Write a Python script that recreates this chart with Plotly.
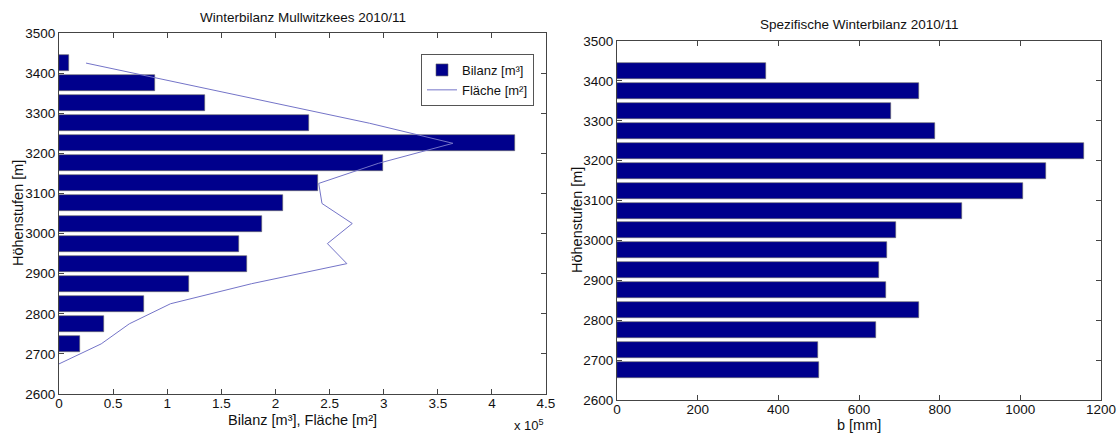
import plotly.graph_objects as go

# ---------------- data ----------------
# left chart: Winterbilanz Mullwitzkees 2010/11
elev_bilanz = [2725, 2775, 2825, 2875, 2925, 2975, 3025, 3075, 3125, 3175, 3225, 3275, 3325, 3375, 3425]
bilanz_m3 = [19400, 41800, 78700, 120100, 173500, 165900, 188000, 207400, 239300, 299000, 421000, 230700, 135300, 88500, 8900]

elev_flaeche = [2675, 2725, 2775, 2825, 2875, 2925, 2975, 3025, 3075, 3125, 3175, 3225, 3275, 3325, 3375, 3425]
flaeche_m2 = [0, 39000, 65000, 103000, 178000, 266000, 248000, 271000, 243000, 240000, 295000, 364000, 287000, 200000, 114000, 25000]

# right chart: Spezifische Winterbilanz 2010/11
elev_spez = [2675, 2725, 2775, 2825, 2875, 2925, 2975, 3025, 3075, 3125, 3175, 3225, 3275, 3325, 3375, 3425]
b_mm = [500, 499, 643, 748, 667, 649, 670, 692, 855, 1006, 1063, 1159, 788, 679, 749, 370]

left_xticks = [0, 50000, 100000, 150000, 200000, 250000, 300000, 350000, 400000, 450000]
left_xticklabels = ["0", "0.5", "1", "1.5", "2", "2.5", "3", "3.5", "4", "4.5"]
right_xticks = [0, 200, 400, 600, 800, 1000, 1200]
y_ticks = [2600, 2700, 2800, 2900, 3000, 3100, 3200, 3300, 3400, 3500]

# ---------------- style ----------------
W, H = 1120, 433
FONT = "Liberation Sans, Arial, Helvetica, sans-serif"
TXT = "#111111"
BAR_COLOR = "#00008C"
LINE_COLOR = "#7474c8"
AX_COLOR = "#444444"


def px_x(p):
    return p / W


def px_y(p):
    return 1 - p / H


fig = go.Figure()

fig.add_trace(go.Bar(
    x=bilanz_m3, y=elev_bilanz, orientation="h", width=40,
    marker=dict(color=BAR_COLOR, line=dict(color="#666666", width=0.6)),
    name="Bilanz [m³]", xaxis="x", yaxis="y",
))
fig.add_trace(go.Scatter(
    x=flaeche_m2, y=elev_flaeche, mode="lines",
    line=dict(color=LINE_COLOR, width=1),
    name="Fläche [m²]", xaxis="x", yaxis="y",
))
fig.add_trace(go.Bar(
    x=b_mm, y=elev_spez, orientation="h", width=40,
    marker=dict(color=BAR_COLOR, line=dict(color="#666666", width=0.6)),
    name="b [mm]", showlegend=False, xaxis="x2", yaxis="y2",
))

axis_common = dict(
    showgrid=False, zeroline=False, showline=True, linecolor=AX_COLOR, linewidth=1,
    mirror="ticks", ticks="inside", ticklen=5, tickcolor=AX_COLOR, tickwidth=1,
    tickfont=dict(family=FONT, size=13.5, color=TXT), automargin=False,
)


def label(text, x, y, size=14.5, angle=0, xanchor="center"):
    return dict(text=text, x=px_x(x), y=px_y(y), xref="paper", yref="paper",
                xanchor=xanchor, yanchor="middle", textangle=angle,
                showarrow=False, font=dict(family=FONT, size=size, color=TXT))


fig.update_layout(
    width=W, height=H,
    margin=dict(l=0, r=0, t=0, b=0),
    paper_bgcolor="white", plot_bgcolor="white",
    font=dict(family=FONT, size=13, color=TXT),
    bargap=0,
    xaxis=dict(domain=[px_x(59), px_x(546)], anchor="y", range=[0, 450000],
               tickvals=left_xticks, ticktext=left_xticklabels,
               ticklabelstandoff=-3, **axis_common),
    yaxis=dict(domain=[px_y(394), px_y(33)], anchor="x", range=[2600, 3500],
               tickvals=y_ticks, **axis_common),
    xaxis2=dict(domain=[px_x(617), px_x(1101)], anchor="y2", range=[0, 1200],
                tickvals=right_xticks, ticklabelstandoff=-3, **axis_common),
    yaxis2=dict(domain=[px_y(400), px_y(41)], anchor="x2", range=[2600, 3500],
                tickvals=y_ticks, **axis_common),
    legend=dict(
        x=px_x(534), xanchor="right", y=px_y(54), yanchor="top",
        bgcolor="white", bordercolor="#555555", borderwidth=1,
        font=dict(family=FONT, size=13, color=TXT),
        tracegroupgap=0, itemwidth=30,
    ),
    annotations=[
        label("Winterbilanz Mullwitzkees 2010/11", 302.5, 18, size=13.5),
        label("Spezifische Winterbilanz 2010/11", 859, 25, size=13.5),
        label("Bilanz [m³], Fläche [m²]", 302.5, 420),
        label("b [mm]", 859, 425),
        label("Höhenstufen [m]", 18, 213, angle=-90),
        label("Höhenstufen [m]", 577, 220, angle=-90),
        label("x 10<sup>5</sup>", 546, 425, size=13, xanchor="right"),
    ],
)

fig.write_html("out.html", config={"displayModeBar": False},
               post_script="document.body.style.margin='0px';")
